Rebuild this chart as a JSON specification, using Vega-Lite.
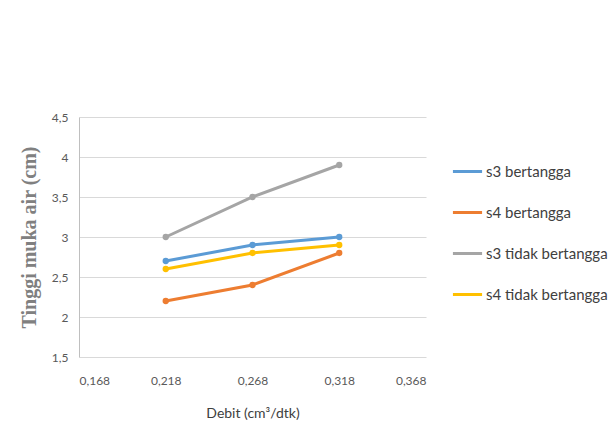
{
  "$schema": "https://vega.github.io/schema/vega-lite/v6.json",
  "width": 347,
  "height": 240,
  "autosize": {"type": "none"},
  "padding": {"left": 79, "top": 117, "right": 187, "bottom": 73},
  "background": "white",
  "config": {
    "view": {"stroke": null},
    "font": "Lato"
  },
  "data": {
    "values": [
      {"debit": 0.218, "tinggi": 2.7, "seri": "s3 bertangga"},
      {"debit": 0.268, "tinggi": 2.9, "seri": "s3 bertangga"},
      {"debit": 0.318, "tinggi": 3.0, "seri": "s3 bertangga"},
      {"debit": 0.218, "tinggi": 2.2, "seri": "s4 bertangga"},
      {"debit": 0.268, "tinggi": 2.4, "seri": "s4 bertangga"},
      {"debit": 0.318, "tinggi": 2.8, "seri": "s4 bertangga"},
      {"debit": 0.218, "tinggi": 3.0, "seri": "s3 tidak bertangga"},
      {"debit": 0.268, "tinggi": 3.5, "seri": "s3 tidak bertangga"},
      {"debit": 0.318, "tinggi": 3.9, "seri": "s3 tidak bertangga"},
      {"debit": 0.218, "tinggi": 2.6, "seri": "s4 tidak bertangga"},
      {"debit": 0.268, "tinggi": 2.8, "seri": "s4 tidak bertangga"},
      {"debit": 0.318, "tinggi": 2.9, "seri": "s4 tidak bertangga"}
    ]
  },
  "encoding": {
    "x": {
      "field": "debit", "type": "quantitative",
      "scale": {"domain": [0.168, 0.368], "nice": false, "zero": false},
      "axis": {
        "values": [0.168, 0.218, 0.268, 0.318, 0.368],
        "labelExpr": "replace(format(datum.value, '.3f'), '.', ',')",
        "title": "Debit (cm³/dtk)",
        "grid": false, "domain": false, "ticks": false,
        "labelPadding": 18, "labelFontSize": 12, "labelColor": "#595959",
        "titleFontSize": 14, "titleFontWeight": "normal", "titleColor": "#404040",
        "titlePadding": 20
      }
    },
    "y": {
      "field": "tinggi", "type": "quantitative",
      "scale": {"domain": [1.5, 4.5], "nice": false, "zero": false},
      "axis": {
        "values": [1.5, 2, 2.5, 3, 3.5, 4, 4.5],
        "labelExpr": "replace(format(datum.value, '~g'), '.', ',')",
        "title": "Tinggi muka air (cm)",
        "grid": true, "gridColor": "#d9d9d9", "gridWidth": 1,
        "domain": true, "domainColor": "#bfbfbf", "ticks": false,
        "labelPadding": 11, "labelFontSize": 12, "labelColor": "#595959",
        "titleFont": "Liberation Serif", "titleFontSize": 20, "titleFontWeight": "bold",
        "titleColor": "#808080", "titlePadding": 12
      }
    },
    "color": {
      "field": "seri", "type": "nominal",
      "sort": ["s3 bertangga", "s4 bertangga", "s3 tidak bertangga", "s4 tidak bertangga"],
      "scale": {
        "domain": ["s3 bertangga", "s4 bertangga", "s3 tidak bertangga", "s4 tidak bertangga"],
        "range": ["#5B9BD5", "#ED7D31", "#A5A5A5", "#FFC000"]
      },
      "legend": {
        "title": null,
        "orient": "none",
        "legendX": 372,
        "legendY": 38,
        "symbolType": "stroke",
        "symbolStrokeWidth": 3,
        "symbolSize": 850,
        "labelFontSize": 15,
        "labelColor": "#404040",
        "labelOffset": 2,
        "labelLimit": 140,
        "rowPadding": 16
      }
    }
  },
  "layer": [
    {"mark": {"type": "line", "strokeWidth": 3}},
    {"mark": {"type": "circle", "size": 40, "opacity": 1}}
  ]
}
